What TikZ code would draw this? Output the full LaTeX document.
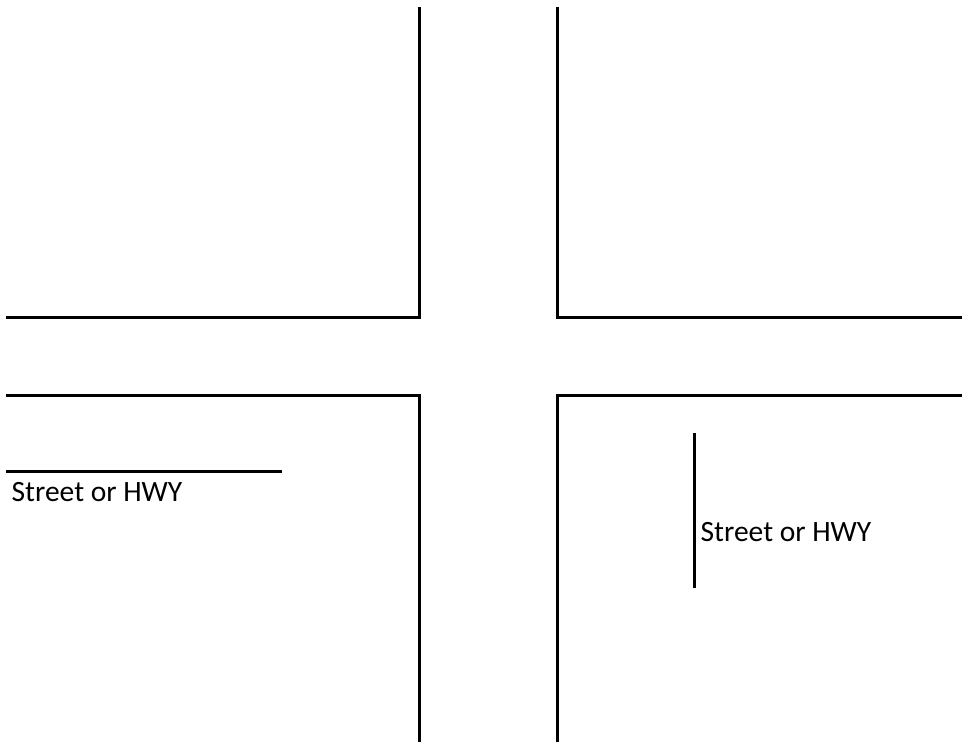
\documentclass[tikz,border=0pt]{standalone}
\usepackage{fontspec}
\setmainfont{Carlito}
\begin{document}
\begin{tikzpicture}[x=1pt,y=-1pt,
  road/.style={line width=3pt,black},
  lbl/.style={anchor=base west,inner sep=0pt,font=\fontsize{29.5}{34}\selectfont}]
\useasboundingbox (0,0) rectangle (962,742);
% top-left corner
\draw[road] (419,7) -- (419,317.5) -- (6,317.5);
% top-right corner
\draw[road] (557,7) -- (557,317.5) -- (962,317.5);
% bottom-left corner
\draw[road] (6,395) -- (419,395) -- (419,742);
% bottom-right corner
\draw[road] (962,395) -- (557,395) -- (557,742);
% label 1
\coordinate (l1a) at (6,471.5);
\coordinate (l1b) at (282,471.5);
\draw[road] (l1a) -- (l1b);
\node[lbl] (t1) at (11.5,501) {Street or HWY};
% label 2
\coordinate (l2a) at (694,433);
\coordinate (l2b) at (694,588);
\draw[road] (l2a) -- (l2b);
\node[lbl] (t2) at (700.5,541.5) {Street or HWY};
\end{tikzpicture}
\end{document}
